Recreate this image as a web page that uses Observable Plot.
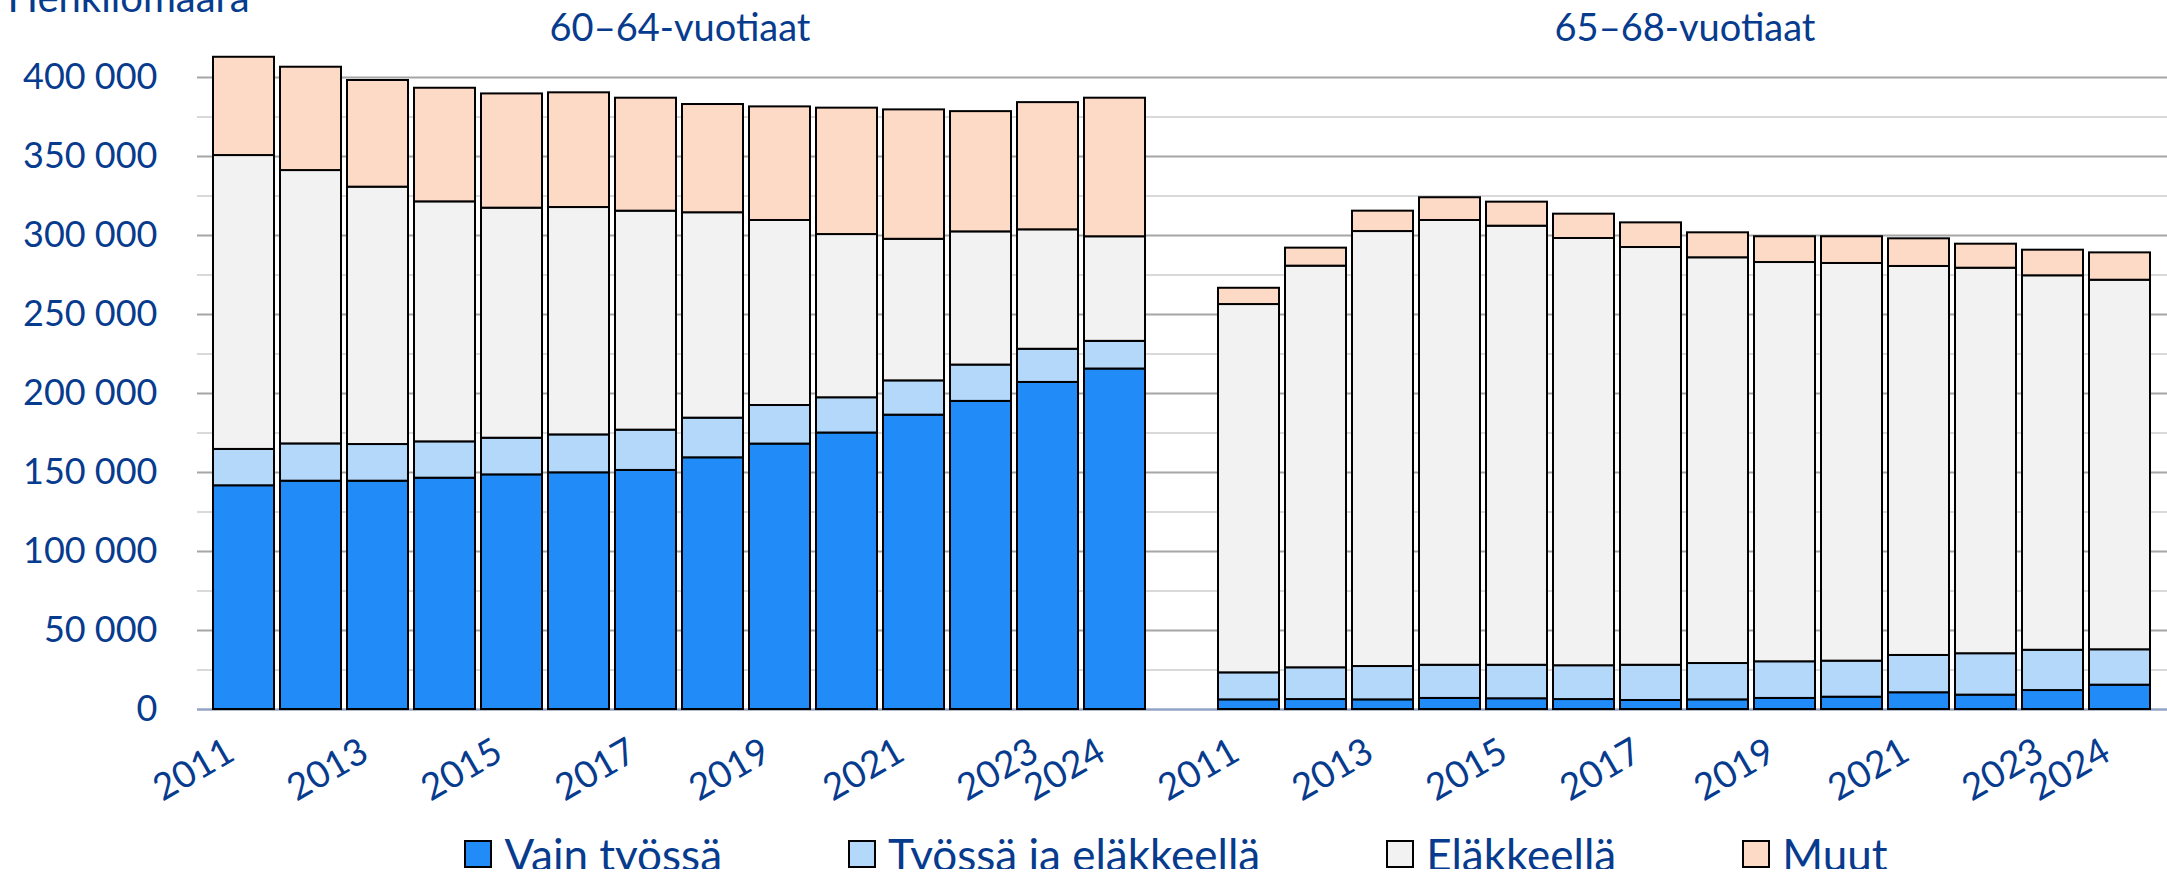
<!DOCTYPE html>
<html><head><meta charset="utf-8">
<script src="https://cdn.jsdelivr.net/npm/d3@7"></script>
<script src="https://cdn.jsdelivr.net/npm/@observablehq/plot@0.6"></script>
<style>
body{margin:0;background:#fff;}
#chart svg{display:block;}
#legend{display:flex;justify-content:center;align-items:center;gap:126px;padding-left:185px;margin-top:24px;font-family:Lato,sans-serif;font-size:44px;color:#073b8e;line-height:30px;}
#legend .item{display:flex;align-items:center;}
#legend .sw{width:24px;height:24px;border:2px solid #000;margin-right:12px;}
</style></head><body>
<div id="chart"></div>
<div id="legend"></div>
<script>
const years = [2011,2012,2013,2014,2015,2016,2017,2018,2019,2020,2021,2022,2023,2024];
const groups = ["60–64-vuotiaat","65–68-vuotiaat"];
const seriesNames = ["Vain työssä","Työssä ja eläkkeellä","Eläkkeellä","Muut"];
const colors = ["#218CF8","#B4D8FA","#F2F2F2","#FDDAC6"];
const xTickYears = [2011,2013,2015,2017,2019,2021,2023,2024];
const yTicks = [0,50000,100000,150000,200000,250000,300000,350000,400000];
const yMinor = [25000,75000,125000,175000,225000,275000,325000,375000];
const yLabel = "Henkilömäärä";

// 60–64-vuotiaat
const vain60 = [141600,144500,144500,146400,148500,149800,151300,159300,168000,175000,186300,195000,207000,215500];
const tyoElak60 = [23000,23600,23200,23000,23200,24000,25500,25100,24400,22300,21700,23000,21000,17500];
const elak60 = [186000,173000,162900,151900,145600,143900,138600,130000,117100,103300,89600,84300,75600,66200];
const muut60 = [62200,65400,67500,71900,72300,72600,71500,68500,71900,80000,81900,76100,80500,87700];

// 65–68-vuotiaat
const vain65 = [6100,6300,6100,7000,6800,6300,5700,6100,7000,7800,10600,9100,12000,15400];
const tyoElak65 = [17100,20100,21100,21000,21200,21400,22300,23000,23200,22800,23600,26200,25500,22400];
const elak65 = [233100,254200,275300,281500,277900,270400,264400,256800,252700,251700,246200,244000,237000,233900];
const muut65 = [10300,11400,12900,14400,15200,15400,15600,15800,16300,16900,17500,15200,16200,17300];

const seriesByGroup = [[vain60,tyoElak60,elak60,muut60],[vain65,tyoElak65,elak65,muut65]];
const rows = [];
groups.forEach((g, gi) => {
  years.forEach((yr, i) => {
    seriesNames.forEach((s, si) => {
      rows.push({key: `${g}|${yr}`, series: s, value: seriesByGroup[gi][si][i]});
    });
  });
});
const xDomain = [...years.map(y => `${groups[0]}|${y}`), "gap", ...years.map(y => `${groups[1]}|${y}`)];
const xTicks = groups.flatMap(g => xTickYears.map(y => `${g}|${y}`));
const titles = [{key: `${groups[0]}|2017`, label: groups[0]}, {key: `${groups[1]}|2017`, label: groups[1]}];
const fmt = d => d3.format(",")(d).replace(/,/g, " ");

const H = 815;
const chart = Plot.plot({
  width: 2167, height: H,
  marginLeft: 197, marginRight: 0, marginTop: 77, marginBottom: H - 709,
  style: {fontFamily: "Lato, sans-serif", fontSize: "36px", color: "#073b8e", background: "white", overflow: "visible"},
  x: {domain: xDomain, paddingInner: 0.088, paddingOuter: 0.044},
  y: {domain: [0, 400000]},
  color: {domain: seriesNames, range: colors},
  marks: [
    Plot.ruleY(yMinor, {stroke: "#d9d9d9", strokeWidth: 2}),
    Plot.ruleY(yTicks, {stroke: "#a6a6a6", strokeWidth: 2}),
    Plot.ruleY([0], {stroke: "#8fa4cc", strokeWidth: 2}),
    Plot.barY(rows, {x: "key", y: "value", fill: "series", stroke: "black", strokeWidth: 2}),
    Plot.axisY({ticks: yTicks, tickSize: 0, tickPadding: 40, tickFormat: fmt, label: null, fontSize: 36}),
    Plot.axisX({ticks: xTicks, tickFormat: d => d.slice(-4), tickRotate: -30, tickSize: 0, tickPadding: 39, dx: -13, textAnchor: "end", lineAnchor: "middle", label: null, fontSize: 37}),
    Plot.text(titles, {x: "key", text: "label", frameAnchor: "top", dx: 34, dy: -37, lineAnchor: "bottom", fontSize: 38, fill: "#073b8e"}),
    Plot.text([yLabel], {frameAnchor: "top-left", dx: -190, dy: -66, textAnchor: "start", lineAnchor: "bottom", fontSize: 40, fill: "#073b8e"})
  ]
});
document.getElementById("chart").append(chart);

const legend = document.getElementById("legend");
seriesNames.forEach((s, i) => {
  const it = document.createElement("div"); it.className = "item";
  const sw = document.createElement("div"); sw.className = "sw"; sw.style.background = colors[i];
  const t = document.createElement("span"); t.textContent = s;
  it.append(sw, t); legend.append(it);
});
</script>
</body></html>
